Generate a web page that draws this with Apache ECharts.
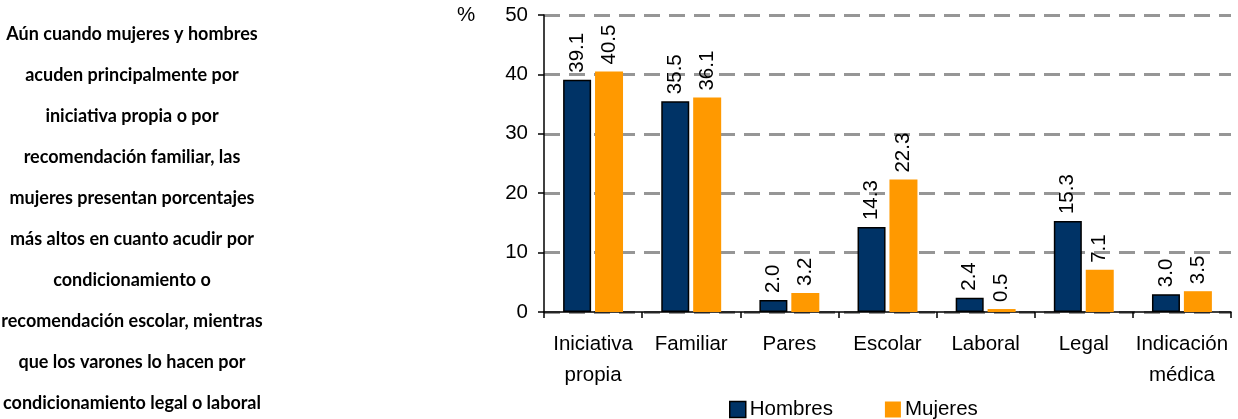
<!DOCTYPE html>
<html>
<head>
<meta charset="utf-8">
<script src="https://cdn.jsdelivr.net/npm/echarts@6/dist/echarts.min.js"></script>
<style>
html,body{margin:0;padding:0;background:#fff;}
#chart{width:1238px;height:419px;}
</style>
</head>
<body>
<div id="chart"></div>
<script>
const categories = ['Iniciativa\npropia', 'Familiar', 'Pares', 'Escolar', 'Laboral', 'Legal', 'Indicación\nmédica'];
const hombres = [39.1, 35.5, 2.0, 14.3, 2.4, 15.3, 3.0];
const mujeres = [40.5, 36.1, 3.2, 22.3, 0.5, 7.1, 3.5];
const yTicks = [0, 10, 20, 30, 40, 50];
const seriesNames = ['Hombres', 'Mujeres'];
const noteLines = [
  'Aún cuando mujeres y hombres',
  'acuden principalmente por',
  'iniciativa propia o por',
  'recomendación familiar, las',
  'mujeres presentan porcentajes',
  'más altos en cuanto acudir por',
  'condicionamiento o',
  'recomendación escolar, mientras',
  'que los varones lo hacen por',
  'condicionamiento legal o laboral'
];

const chart = echarts.init(document.getElementById('chart'), null, {renderer: 'canvas'});
const FONT = 'Liberation Sans, Arial, sans-serif';
const FS = 20.5;
const labelCfg = {
  show: true,
  position: 'top',
  rotate: 90,
  align: 'left',
  verticalAlign: 'middle',
  distance: 7,
  color: '#000',
  fontFamily: FONT,
  fontSize: FS,
  formatter: p => p.value.toFixed(1)
};

chart.setOption({
  animation: false,
  backgroundColor: '#fff',
  grid: {left: 544, right: 7, top: 15, bottom: 107, containLabel: false, outerBoundsMode: 'none'},
  legend: {
    data: [
      {name: seriesNames[0], itemStyle: {borderColor: '#000', borderWidth: 1.5}},
      {name: seriesNames[1]}
    ],
    left: 724, top: 394,
    itemWidth: 16, itemHeight: 16, itemGap: 52,
    icon: 'rect',
    textStyle: {fontFamily: FONT, fontSize: FS, color: '#000', padding: [0, 0, 0, -1]}
  },
  graphic: [
    {
      type: 'text', left: 457, top: 5,
      style: {text: '%', fontFamily: FONT, fontSize: FS, fill: '#000'}
    },
    {
      type: 'text', x: 132, y: 14,
      style: {
        text: noteLines.join('\n'),
        fontFamily: 'Lato, sans-serif', fontWeight: 'bold', fontSize: 18,
        lineHeight: 41, align: 'center', verticalAlign: 'top', fill: '#000'
      }
    }
  ],
  xAxis: {
    type: 'category',
    data: categories,
    axisLine: {lineStyle: {color: '#000', width: 1.5}},
    axisTick: {show: true, length: 6, lineStyle: {color: '#000', width: 1.5}},
    axisLabel: {fontFamily: FONT, fontSize: FS, color: '#000', lineHeight: 31, margin: 17, interval: 0}
  },
  yAxis: {
    type: 'value',
    min: yTicks[0], max: yTicks[yTicks.length - 1], interval: 10,
    axisLine: {show: true, lineStyle: {color: '#000', width: 1.5}},
    axisTick: {show: true, length: 6, lineStyle: {color: '#000', width: 1.5}},
    axisLabel: {fontFamily: FONT, fontSize: FS, color: '#000', margin: 16},
    splitLine: {show: true, lineStyle: {color: '#969696', width: 3, type: [16, 9]}}
  },
  series: [
    {
      name: seriesNames[0], type: 'bar', data: hombres,
      barWidth: 28, barGap: '14%',
      itemStyle: {color: '#003366', borderColor: '#000', borderWidth: 1.5},
      label: labelCfg
    },
    {
      name: seriesNames[1], type: 'bar', data: mujeres,
      barWidth: 28,
      itemStyle: {color: '#FF9900'},
      label: labelCfg
    }
  ]
});
</script>
</body>
</html>
